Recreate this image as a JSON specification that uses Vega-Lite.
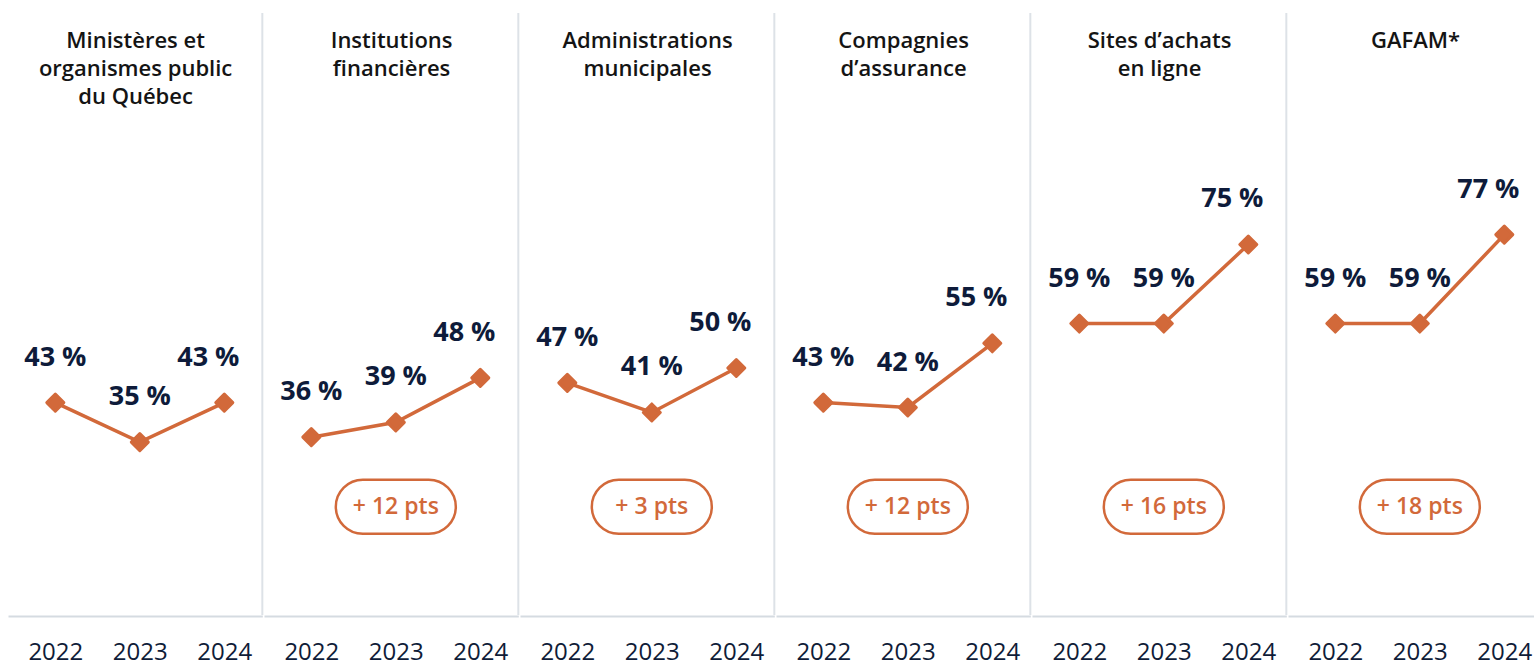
{
  "$schema": "https://vega.github.io/schema/vega-lite/v6.json",
  "padding": {"left": 8, "top": 12, "right": 0, "bottom": 5},
  "background": "white",
  "data": {
    "values": [
      {"categorie": "Ministères et\norganismes public\ndu Québec", "annee": 2022, "valeur": 43, "etiquette": "43 %", "variation": null},
      {"categorie": "Ministères et\norganismes public\ndu Québec", "annee": 2023, "valeur": 35, "etiquette": "35 %", "variation": null},
      {"categorie": "Ministères et\norganismes public\ndu Québec", "annee": 2024, "valeur": 43, "etiquette": "43 %", "variation": null},
      {"categorie": "Institutions\nfinancières", "annee": 2022, "valeur": 36, "etiquette": "36 %", "variation": "+ 12 pts"},
      {"categorie": "Institutions\nfinancières", "annee": 2023, "valeur": 39, "etiquette": "39 %", "variation": "+ 12 pts"},
      {"categorie": "Institutions\nfinancières", "annee": 2024, "valeur": 48, "etiquette": "48 %", "variation": "+ 12 pts"},
      {"categorie": "Administrations\nmunicipales", "annee": 2022, "valeur": 47, "etiquette": "47 %", "variation": "+ 3 pts"},
      {"categorie": "Administrations\nmunicipales", "annee": 2023, "valeur": 41, "etiquette": "41 %", "variation": "+ 3 pts"},
      {"categorie": "Administrations\nmunicipales", "annee": 2024, "valeur": 50, "etiquette": "50 %", "variation": "+ 3 pts"},
      {"categorie": "Compagnies\nd’assurance", "annee": 2022, "valeur": 43, "etiquette": "43 %", "variation": "+ 12 pts"},
      {"categorie": "Compagnies\nd’assurance", "annee": 2023, "valeur": 42, "etiquette": "42 %", "variation": "+ 12 pts"},
      {"categorie": "Compagnies\nd’assurance", "annee": 2024, "valeur": 55, "etiquette": "55 %", "variation": "+ 12 pts"},
      {"categorie": "Sites d’achats\nen ligne", "annee": 2022, "valeur": 59, "etiquette": "59 %", "variation": "+ 16 pts"},
      {"categorie": "Sites d’achats\nen ligne", "annee": 2023, "valeur": 59, "etiquette": "59 %", "variation": "+ 16 pts"},
      {"categorie": "Sites d’achats\nen ligne", "annee": 2024, "valeur": 75, "etiquette": "75 %", "variation": "+ 16 pts"},
      {"categorie": "GAFAM*", "annee": 2022, "valeur": 59, "etiquette": "59 %", "variation": "+ 18 pts"},
      {"categorie": "GAFAM*", "annee": 2023, "valeur": 59, "etiquette": "59 %", "variation": "+ 18 pts"},
      {"categorie": "GAFAM*", "annee": 2024, "valeur": 77, "etiquette": "77 %", "variation": "+ 18 pts"}
    ]
  },
  "facet": {
    "column": {
      "field": "categorie",
      "type": "nominal",
      "title": null,
      "sort": ["Ministères et\norganismes public\ndu Québec", "Institutions\nfinancières", "Administrations\nmunicipales", "Compagnies\nd’assurance", "Sites d’achats\nen ligne", "GAFAM*"],
      "header": {"labels": false}
    }
  },
  "spacing": 0,
  "spec": {
    "width": 254.33,
    "height": 602,
    "layer": [
      {
        "transform": [{"filter": "datum.annee === 2024 && datum.categorie !== 'GAFAM*'"}],
        "mark": {"type": "rule", "color": "#dde2e7", "strokeWidth": 2},
        "encoding": {
          "x": {"datum": 2024.45, "type": "quantitative", "title": null, "scale": {"domain": [2021.44, 2024.45], "nice": false, "zero": false}, "axis": {"values": [2022, 2023, 2024], "format": "d", "ticks": false, "grid": false, "labelFontSize": 24, "labelFont": "Open Sans", "labelColor": "#0f1c38", "labelPadding": 24, "domainColor": "#d5dbe1", "domainWidth": 2, "title": null, "labelFlush": false}},
          "y": {"datum": 0, "type": "quantitative", "title": null, "scale": {"domain": [0, 121.86], "nice": false, "zero": false}, "axis": null},
          "y2": {"datum": 121.86}
        }
      },
      {
        "mark": {"type": "line", "color": "#d2693a", "strokeWidth": 3.5},
        "encoding": {
          "x": {"field": "annee", "type": "quantitative", "title": null, "scale": {"domain": [2021.44, 2024.45], "nice": false, "zero": false}, "axis": {"values": [2022, 2023, 2024], "format": "d", "ticks": false, "grid": false, "labelFontSize": 24, "labelFont": "Open Sans", "labelColor": "#0f1c38", "labelPadding": 24, "domainColor": "#d5dbe1", "domainWidth": 2, "title": null, "labelFlush": false}},
          "y": {"field": "valeur", "type": "quantitative", "title": null, "scale": {"domain": [0, 121.86], "nice": false, "zero": false}, "axis": null}
        }
      },
      {
        "mark": {"type": "point", "shape": "diamond", "filled": true, "size": 290, "color": "#d2693a", "stroke": "#d2693a", "strokeWidth": 3, "strokeJoin": "round", "opacity": 1},
        "encoding": {
          "x": {"field": "annee", "type": "quantitative", "title": null, "scale": {"domain": [2021.44, 2024.45], "nice": false, "zero": false}, "axis": {"values": [2022, 2023, 2024], "format": "d", "ticks": false, "grid": false, "labelFontSize": 24, "labelFont": "Open Sans", "labelColor": "#0f1c38", "labelPadding": 24, "domainColor": "#d5dbe1", "domainWidth": 2, "title": null, "labelFlush": false}},
          "y": {"field": "valeur", "type": "quantitative", "title": null, "scale": {"domain": [0, 121.86], "nice": false, "zero": false}, "axis": null}
        }
      },
      {
        "transform": [{"filter": "datum.annee !== 2024"}],
        "mark": {"type": "text", "font": "Open Sans", "fontSize": 27, "fontWeight": "bold", "color": "#0e1b3a", "dy": -45, "baseline": "middle", "align": "center"},
        "encoding": {
          "x": {"field": "annee", "type": "quantitative", "title": null, "scale": {"domain": [2021.44, 2024.45], "nice": false, "zero": false}, "axis": {"values": [2022, 2023, 2024], "format": "d", "ticks": false, "grid": false, "labelFontSize": 24, "labelFont": "Open Sans", "labelColor": "#0f1c38", "labelPadding": 24, "domainColor": "#d5dbe1", "domainWidth": 2, "title": null, "labelFlush": false}},
          "y": {"field": "valeur", "type": "quantitative", "title": null, "scale": {"domain": [0, 121.86], "nice": false, "zero": false}, "axis": null},
          "text": {"field": "etiquette", "type": "nominal"}
        }
      },
      {
        "transform": [{"filter": "datum.annee === 2024"}],
        "mark": {"type": "text", "font": "Open Sans", "fontSize": 27, "fontWeight": "bold", "color": "#0e1b3a", "dy": -45, "dx": -16, "baseline": "middle", "align": "center"},
        "encoding": {
          "x": {"field": "annee", "type": "quantitative", "title": null, "scale": {"domain": [2021.44, 2024.45], "nice": false, "zero": false}, "axis": {"values": [2022, 2023, 2024], "format": "d", "ticks": false, "grid": false, "labelFontSize": 24, "labelFont": "Open Sans", "labelColor": "#0f1c38", "labelPadding": 24, "domainColor": "#d5dbe1", "domainWidth": 2, "title": null, "labelFlush": false}},
          "y": {"field": "valeur", "type": "quantitative", "title": null, "scale": {"domain": [0, 121.86], "nice": false, "zero": false}, "axis": null},
          "text": {"field": "etiquette", "type": "nominal"}
        }
      },
      {
        "transform": [{"filter": "datum.annee === 2023 && datum.variation != null"}],
        "mark": {"type": "point", "shape": "M-0.55,-0.45L0.55,-0.45C0.7985,-0.45,1,-0.2485,1,0C1,0.2485,0.7985,0.45,0.55,0.45L-0.55,0.45C-0.7985,0.45,-1,0.2485,-1,0C-1,-0.2485,-0.7985,-0.45,-0.55,-0.45Z", "size": 14400, "filled": true, "fill": "white", "stroke": "#d2693a", "strokeWidth": 2.5, "opacity": 1},
        "encoding": {
          "x": {"datum": 2023, "type": "quantitative", "title": null, "scale": {"domain": [2021.44, 2024.45], "nice": false, "zero": false}, "axis": {"values": [2022, 2023, 2024], "format": "d", "ticks": false, "grid": false, "labelFontSize": 24, "labelFont": "Open Sans", "labelColor": "#0f1c38", "labelPadding": 24, "domainColor": "#d5dbe1", "domainWidth": 2, "title": null, "labelFlush": false}},
          "y": {"datum": 21.9, "type": "quantitative", "title": null, "scale": {"domain": [0, 121.86], "nice": false, "zero": false}, "axis": null}
        }
      },
      {
        "transform": [{"filter": "datum.annee === 2023 && datum.variation != null"}],
        "mark": {"type": "text", "font": "Open Sans", "fontSize": 23, "fontWeight": 600, "color": "#d2693a", "baseline": "middle", "align": "center"},
        "encoding": {
          "x": {"datum": 2023, "type": "quantitative", "title": null, "scale": {"domain": [2021.44, 2024.45], "nice": false, "zero": false}, "axis": {"values": [2022, 2023, 2024], "format": "d", "ticks": false, "grid": false, "labelFontSize": 24, "labelFont": "Open Sans", "labelColor": "#0f1c38", "labelPadding": 24, "domainColor": "#d5dbe1", "domainWidth": 2, "title": null, "labelFlush": false}},
          "y": {"datum": 21.9, "type": "quantitative", "title": null, "scale": {"domain": [0, 121.86], "nice": false, "zero": false}, "axis": null},
          "text": {"field": "variation", "type": "nominal"}
        }
      },
      {
        "transform": [{"filter": "datum.annee === 2022"}],
        "mark": {"type": "text", "font": "Open Sans", "fontSize": 22, "fontWeight": 600, "color": "#141414", "baseline": "top", "align": "center", "lineBreak": "\n", "lineHeight": 28},
        "encoding": {
          "x": {"datum": 2022.95, "type": "quantitative", "title": null, "scale": {"domain": [2021.44, 2024.45], "nice": false, "zero": false}, "axis": {"values": [2022, 2023, 2024], "format": "d", "ticks": false, "grid": false, "labelFontSize": 24, "labelFont": "Open Sans", "labelColor": "#0f1c38", "labelPadding": 24, "domainColor": "#d5dbe1", "domainWidth": 2, "title": null, "labelFlush": false}},
          "y": {"datum": 118.3, "type": "quantitative", "title": null, "scale": {"domain": [0, 121.86], "nice": false, "zero": false}, "axis": null},
          "text": {"field": "categorie", "type": "nominal"}
        }
      }
    ]
  },
  "config": {
    "view": {"stroke": null},
    "font": "Open Sans"
  }
}
